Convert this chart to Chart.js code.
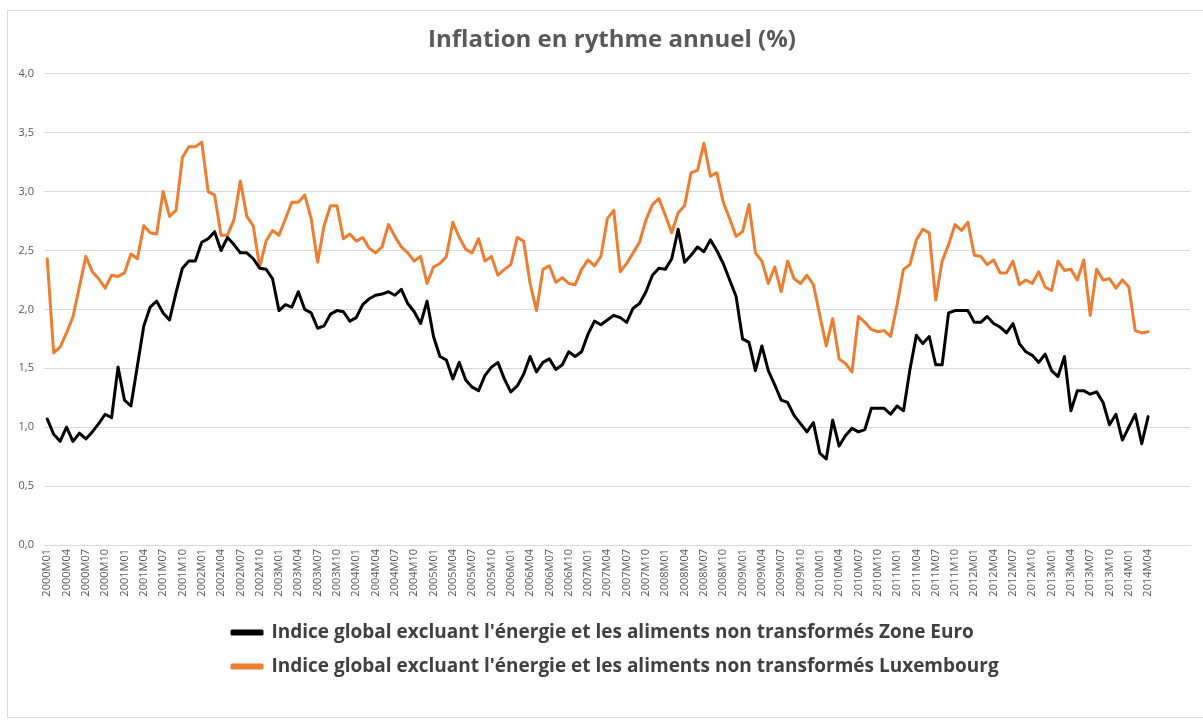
<!DOCTYPE html>
<html lang="fr">
<head>
<meta charset="utf-8">
<title>Inflation en rythme annuel (%)</title>
<script src="https://cdn.jsdelivr.net/npm/chart.js@4.4.1/dist/chart.umd.min.js"></script>
<style>
  html, body { margin:0; padding:0; background:#fff; }
  #wrap { position:relative; width:1203px; height:720px; overflow:hidden; }
  #frame { position:absolute; left:7px; top:10px; width:1210px; height:706px; border:1px solid #d9d9d9; pointer-events:none; }
</style>
</head>
<body>
<div id="wrap">
  <canvas id="chart" width="1203" height="720"></canvas>
  <div id="frame"></div>
</div>
<script>
/* Monthly categories 2000M01 .. 2014M04, then a few empty slots as in the source sheet */
const FIRST_YEAR = 2000;
const LAST_YEAR = 2014;
const LAST_MONTH = 4;
const EMPTY_SLOTS = 6;
const LABEL_EVERY = 3;

const months = [];
for (let y = FIRST_YEAR; y <= LAST_YEAR; y++) {
  for (let m = 1; m <= 12; m++) {
    if (y === LAST_YEAR && m > LAST_MONTH) break;
    months.push(y + "M" + String(m).padStart(2, "0"));
  }
}
for (let k = 0; k < EMPTY_SLOTS; k++) months.push("");

const yTicks = [0, 0.5, 1, 1.5, 2, 2.5, 3, 3.5, 4];

const zoneEuro = [
  1.07,0.94,0.88,1.00,0.88,0.95,0.90,0.96,1.03,1.11,1.08,1.51,
  1.23,1.18,1.52,1.86,2.02,2.07,1.97,1.91,2.14,2.35,2.41,2.41,
  2.57,2.60,2.66,2.50,2.61,2.55,2.48,2.48,2.43,2.35,2.34,2.26,
  1.99,2.04,2.02,2.15,2.00,1.97,1.84,1.86,1.96,1.99,1.98,1.90,
  1.93,2.04,2.09,2.12,2.13,2.15,2.12,2.17,2.05,1.98,1.88,2.07,
  1.77,1.60,1.57,1.41,1.55,1.40,1.34,1.31,1.44,1.51,1.55,1.41,
  1.30,1.35,1.45,1.60,1.47,1.55,1.58,1.49,1.53,1.64,1.60,1.64,
  1.79,1.90,1.87,1.91,1.95,1.93,1.89,2.01,2.05,2.15,2.29,2.35,
  2.34,2.43,2.68,2.40,2.46,2.53,2.49,2.59,2.50,2.39,2.25,2.11,
  1.75,1.72,1.48,1.69,1.48,1.36,1.23,1.21,1.10,1.03,0.96,1.04,
  0.78,0.73,1.06,0.84,0.93,0.99,0.96,0.98,1.16,1.16,1.16,1.11,
  1.18,1.14,1.49,1.78,1.71,1.77,1.53,1.53,1.97,1.99,1.99,1.99,
  1.89,1.89,1.94,1.88,1.85,1.80,1.88,1.71,1.64,1.61,1.55,1.62,
  1.48,1.43,1.60,1.14,1.31,1.31,1.28,1.30,1.21,1.02,1.11,0.89,
  1.00,1.11,0.86,1.09
];

const luxembourg = [
  2.43,1.63,1.68,1.80,1.94,2.19,2.45,2.32,2.26,2.18,2.29,2.28,
  2.31,2.47,2.43,2.71,2.65,2.64,3.00,2.79,2.84,3.29,3.38,3.38,
  3.42,3.00,2.97,2.63,2.63,2.76,3.09,2.79,2.71,2.36,2.58,2.67,
  2.63,2.77,2.91,2.91,2.97,2.77,2.40,2.71,2.88,2.88,2.60,2.64,
  2.58,2.61,2.52,2.48,2.53,2.72,2.62,2.53,2.48,2.41,2.45,2.22,
  2.36,2.39,2.45,2.74,2.61,2.51,2.48,2.60,2.41,2.45,2.29,2.34,
  2.38,2.61,2.58,2.22,1.99,2.34,2.37,2.23,2.27,2.22,2.21,2.34,
  2.42,2.37,2.45,2.77,2.84,2.32,2.39,2.48,2.57,2.76,2.89,2.94,
  2.80,2.65,2.82,2.88,3.16,3.18,3.41,3.13,3.16,2.91,2.77,2.62,
  2.66,2.89,2.48,2.41,2.22,2.36,2.15,2.41,2.26,2.22,2.29,2.21,
  1.95,1.69,1.92,1.58,1.54,1.47,1.94,1.89,1.83,1.81,1.82,1.77,
  2.04,2.34,2.38,2.59,2.68,2.65,2.08,2.41,2.55,2.72,2.67,2.74,
  2.46,2.45,2.38,2.42,2.31,2.31,2.41,2.21,2.25,2.22,2.32,2.19,
  2.16,2.41,2.33,2.34,2.25,2.42,1.95,2.34,2.25,2.26,2.18,2.25,
  2.19,1.82,1.80,1.81
];

const seriesNames = [
  "Indice global excluant l'énergie et les aliments non transformés Zone Euro",
  "Indice global excluant l'énergie et les aliments non transformés Luxembourg"
];

const GRID = "#d9d9d9";
const TXT = "#595959";

/* legend rows start at the same x like the spreadsheet legend; title sits a bit right of canvas centre */
const nudgeBoxes = {
  id: "nudgeBoxes",
  afterLayout(chart){
    if (chart.legend) chart.legend.left = 217;
    if (chart.titleBlock){ chart.titleBlock.left += 11; chart.titleBlock.right += 11; }
  }
};

new Chart(document.getElementById("chart"), {
  type: "line",
  data: {
    labels: months,
    datasets: [
      { label: seriesNames[0], data: zoneEuro, borderColor: "#000000", backgroundColor: "#000000",
        borderWidth: 3, pointRadius: 0, tension: 0, borderJoinStyle: "round", borderCapStyle: "round" },
      { label: seriesNames[1], data: luxembourg, borderColor: "#ED7D31", backgroundColor: "#ED7D31",
        borderWidth: 3, pointRadius: 0, tension: 0, borderJoinStyle: "round", borderCapStyle: "round" }
    ]
  },
  plugins: [nudgeBoxes],
  options: {
    responsive: false, animation: false, devicePixelRatio: 1,
    layout: { padding: { left: 12, right: 13, top: 14, bottom: 34 } },
    plugins: {
      tooltip: { enabled: false },
      title: { display: true, text: "Inflation en rythme annuel (%)", color: TXT,
        font: { family: "'Open Sans', sans-serif", size: 24, weight: "bold" }, padding: { top: 12, bottom: 19 } },
      legend: { position: "bottom", align: "start",
        labels: { boxWidth: 30, boxHeight: 3, padding: 15, color: "#404040",
          font: { family: "'Open Sans', sans-serif", size: 19, weight: "bold" } } }
    },
    scales: {
      x: {
        offset: true,
        grid: { display: false, drawTicks: false },
        border: { display: true, color: GRID },
        afterFit(s){ s.height = 63; },
        ticks: { autoSkip: false, minRotation: 90, maxRotation: 90, padding: 4, color: TXT,
          font: { family: "'Open Sans', sans-serif", size: 11 },
          callback(v, i){ const l = this.getLabelForValue(v); return (i % LABEL_EVERY === 0 && l) ? l : null; } }
      },
      y: {
        min: 0, max: 4,
        afterFit(s){ s.width = 32; },
        afterBuildTicks(s){ s.ticks = yTicks.map(v => ({ value: v })); },
        grid: { color: GRID, drawTicks: false },
        border: { display: false },
        ticks: { padding: 10, color: TXT, font: { family: "'Open Sans', sans-serif", size: 11 },
          callback: v => v.toFixed(1).replace(".", ",") }
      }
    }
  }
});
</script>
</body>
</html>
